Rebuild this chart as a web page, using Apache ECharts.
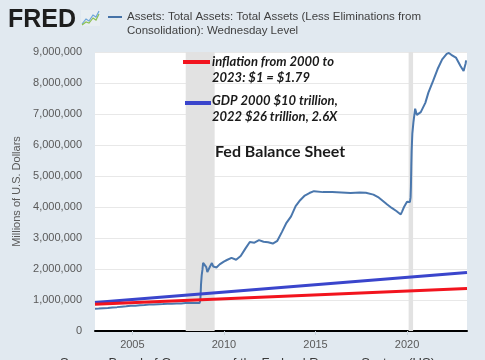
<!DOCTYPE html>
<html><head><meta charset="utf-8">
<script src="https://cdn.jsdelivr.net/npm/echarts@6/dist/echarts.min.js"></script>
<style>html,body{margin:0;padding:0;background:#e1e9f0}#c{width:485px;height:360px}</style>
</head><body><div id="c"></div>
<script>
const walclDates = ['2002-12-18','2003-03-01','2003-06-01','2003-09-01','2003-12-01','2004-03-01','2004-06-01','2004-09-01','2004-12-01','2005-03-01','2005-06-01','2005-09-01','2005-12-01','2006-03-01','2006-06-01','2006-09-01','2006-12-01','2007-03-01','2007-06-01','2007-09-01','2007-12-01','2008-03-01','2008-06-01','2008-09-03','2008-09-17','2008-09-24','2008-10-01','2008-10-15','2008-10-29','2008-11-12','2008-12-17','2009-01-14','2009-02-04','2009-03-04','2009-04-01','2009-05-06','2009-06-03','2009-07-01','2009-08-05','2009-10-07','2009-12-30','2010-03-01','2010-06-01','2010-09-01','2010-12-01','2011-03-01','2011-06-01','2011-09-01','2011-12-01','2012-03-01','2012-06-01','2012-09-01','2012-12-01','2013-03-01','2013-06-01','2013-09-01','2013-12-01','2014-03-01','2014-06-01','2014-09-01','2014-12-01','2015-06-01','2015-12-01','2016-06-01','2016-12-01','2017-06-01','2017-10-01','2018-03-01','2018-06-01','2018-09-01','2018-12-01','2019-03-01','2019-06-01','2019-08-28','2019-09-25','2019-11-01','2019-12-31','2020-02-26','2020-03-11','2020-03-18','2020-03-25','2020-04-01','2020-04-15','2020-05-06','2020-06-10','2020-07-15','2020-08-12','2020-09-30','2020-12-30','2021-03-01','2021-06-01','2021-09-01','2021-12-01','2022-03-01','2022-04-13','2022-06-01','2022-09-01','2022-12-01','2023-02-01','2023-03-08','2023-03-15','2023-03-22'];
const walclValues = [719000,725000,735000,745000,760000,770000,785000,795000,812000,815000,830000,840000,855000,855000,865000,870000,880000,880000,890000,885000,900000,900000,905000,905000,1000000,1200000,1500000,1800000,1970000,2200000,2260000,2060000,1900000,1950000,2090000,2190000,2080000,2040000,2050000,2150000,2240000,2290000,2360000,2300000,2420000,2650000,2870000,2850000,2930000,2880000,2860000,2820000,2910000,3190000,3490000,3700000,4030000,4220000,4370000,4450000,4510000,4480000,4480000,4470000,4450000,4470000,4460000,4400000,4320000,4200000,4080000,3970000,3870000,3760000,3860000,4000000,4170000,4160000,4310000,4670000,5300000,5810000,6370000,6720000,7170000,6970000,6960000,7060000,7360000,7690000,8060000,8450000,8760000,8940000,8970000,8910000,8820000,8550000,8390000,8340000,8640000,8730000];
const inflationDates = ['2002-12-18','2023-04-10'];
const inflationValues = [860000,1370000];
const gdpDates = ['2002-12-18','2023-04-10'];
const gdpValues = [920000,1890000];
const xTickYears = ['2005','2010','2015','2020'];
const recessions = [['2007-12-01','2009-06-30'],['2020-02-01','2020-04-30']];

const ts = s => new Date(s + 'T00:00:00').getTime();
const xTicks = xTickYears.map(y => ts(y + '-01-01'));
const pair = (d, v) => d.map((x, i) => [ts(x), v[i]]);

const chart = echarts.init(document.getElementById('c'), null, {renderer: 'canvas'});
chart.setOption({
  backgroundColor: '#e1e9f0',
  animation: false,
  grid: {left: 95, right: 18, top: 52, bottom: 29, show: true, backgroundColor: '#ffffff', borderWidth: 0},
  xAxis: {
    type: 'value', min: ts('2002-12-18'), max: ts('2023-04-10'),
    axisLine: {show: true, onZero: false, lineStyle: {color: '#000', width: 2}},
    axisTick: {show: true, customValues: xTicks, length: 4, lineStyle: {color: '#c8d3dc'}},
    axisLabel: {customValues: xTicks, formatter: v => String(new Date(v).getFullYear()), color: '#595959', fontSize: 11, fontFamily: 'Liberation Sans', margin: 8},
    splitLine: {show: false}
  },
  yAxis: {
    type: 'value', min: 0, max: 9000000, interval: 1000000,
    axisLine: {show: false}, axisTick: {show: false},
    axisLabel: {color: '#595959', fontSize: 11, fontFamily: 'Liberation Sans', margin: 13, formatter: v => v.toLocaleString('en-US')},
    splitLine: {lineStyle: {color: '#e8e8e8', width: 1}},
    name: 'Millions of U.S. Dollars', nameLocation: 'middle', nameRotate: 90, nameGap: 70,
    nameTextStyle: {color: '#595959', fontSize: 11, fontFamily: 'Liberation Sans'}
  },
  series: [
    {type: 'line', data: pair(walclDates, walclValues), showSymbol: false, lineStyle: {color: '#4a77ad', width: 2}, z: 3,
     markArea: {silent: true, itemStyle: {color: '#e2e2e2'}, data: recessions.map(r => [{xAxis: ts(r[0])}, {xAxis: ts(r[1])}])}},
    {type: 'line', data: pair(gdpDates, gdpValues), showSymbol: false, lineStyle: {color: '#3a45cc', width: 3}, z: 4},
    {type: 'line', data: pair(inflationDates, inflationValues), showSymbol: false, lineStyle: {color: '#f2141e', width: 3}, z: 4}
  ],
  graphic: [
    {type: 'text', left: 8, top: 8, style: {text: 'FRED', font: 'bold 25px "Liberation Sans"', fill: '#1d1d1d'}},
    {type: 'rect', shape: {x: 81, y: 10, width: 19, height: 16}, style: {fill: '#e8eef2'}},
    {type: 'polyline', shape: {points: [[82,24],[86,19],[89,21],[93,15],[96,17],[99,11]]}, style: {stroke: '#6da5d8', lineWidth: 1.2, fill: null}},
    {type: 'polyline', shape: {points: [[82,25],[86,22],[89,23],[93,18],[96,20],[99,14]]}, style: {stroke: '#8cc152', lineWidth: 1.2, fill: null}},
    {type: 'line', shape: {x1: 108, y1: 17, x2: 122, y2: 17}, style: {stroke: '#4572a7', lineWidth: 2}},
    {type: 'text', left: 127, top: 10, style: {text: 'Assets: Total Assets: Total Assets (Less Eliminations from\nConsolidation): Wednesday Level', font: '11.5px "Liberation Sans"', fill: '#3f3f3f', lineHeight: 14}},
    {type: 'line', shape: {x1: 183, y1: 62, x2: 210, y2: 62}, style: {stroke: '#f2141e', lineWidth: 4}, z: 10},
    {type: 'text', left: 212, top: 54, z: 10, style: {text: 'inflation from 2000 to\n2023: $1 = $1.79', font: 'italic bold 13px Lato', fill: '#1a1a1a', lineHeight: 16}},
    {type: 'line', shape: {x1: 185, y1: 103, x2: 211, y2: 103}, style: {stroke: '#3a45cc', lineWidth: 4}, z: 10},
    {type: 'text', left: 212, top: 93, z: 10, style: {text: 'GDP 2000 $10 trillion,\n2022 $26 trillion, 2.6X', font: 'italic bold 13px Lato', fill: '#1a1a1a', lineHeight: 16}},
    {type: 'text', left: 215, top: 144, z: 10, style: {text: 'Fed Balance Sheet', font: 'bold 16px Lato', fill: '#1a1a1a'}},
    {type: 'text', left: 60, top: 357, style: {text: 'Source: Board of Governors of the Federal Reserve System (US)', font: '13px "Liberation Sans"', fill: '#3a3a3a'}}
  ]
});
</script></body></html>
